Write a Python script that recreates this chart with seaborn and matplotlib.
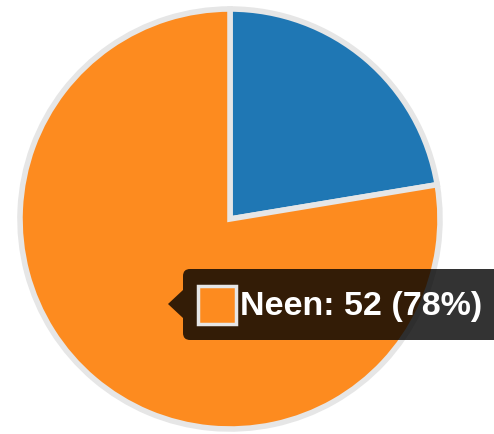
import matplotlib
matplotlib.use("Agg")
import matplotlib.pyplot as plt
import seaborn as sns
from matplotlib.patches import FancyBboxPatch, Polygon, Rectangle

sns.set_theme(style="white")
plt.rcParams['font.family'] = ['Liberation Sans', 'DejaVu Sans']

# data
labels = ["Ja", "Neen"]
values = [15, 52]
colors = ["#1f77b4", "#fd8b1f"]
hover = 1  # slice with tooltip

W, H = 494, 435
fig = plt.figure(figsize=(W / 100, H / 100), dpi=100)
ax = fig.add_axes([0, 0, 1, 1])

def py(y):
    # pixel y (top-down) to data y
    return H - y

ax.pie(values, colors=colors, startangle=90, counterclock=False,
       center=(230, py(220)), radius=210, frame=True,
       wedgeprops=dict(edgecolor="#e6e6e6", linewidth=4))
ax.set_xlim(0, W)
ax.set_ylim(0, H)
ax.axis("off")

# tooltip
total = sum(values)
pct = round(values[hover] / total * 100)
txt = f"{labels[hover]}: {values[hover]} ({pct}%)"

box = FancyBboxPatch((183, py(341)), 320, 71,
                     boxstyle="round,pad=0,rounding_size=7",
                     facecolor="black", edgecolor="none", alpha=0.8, zorder=5)
ax.add_patch(box)
ax.add_patch(Polygon([(168, py(305)), (183, py(291)), (183, py(319))],
                     closed=True, facecolor="black", edgecolor="none",
                     alpha=0.8, zorder=5))
ax.add_patch(Rectangle((198, py(325)), 38, 38, facecolor=colors[hover],
                       edgecolor="#e6e6e6", linewidth=2.5, zorder=6))
ax.text(240, py(306), txt, color="white", fontsize=24.5, fontweight="bold",
        va="center", ha="left", zorder=7)

fig.savefig("out.png", dpi=100)
